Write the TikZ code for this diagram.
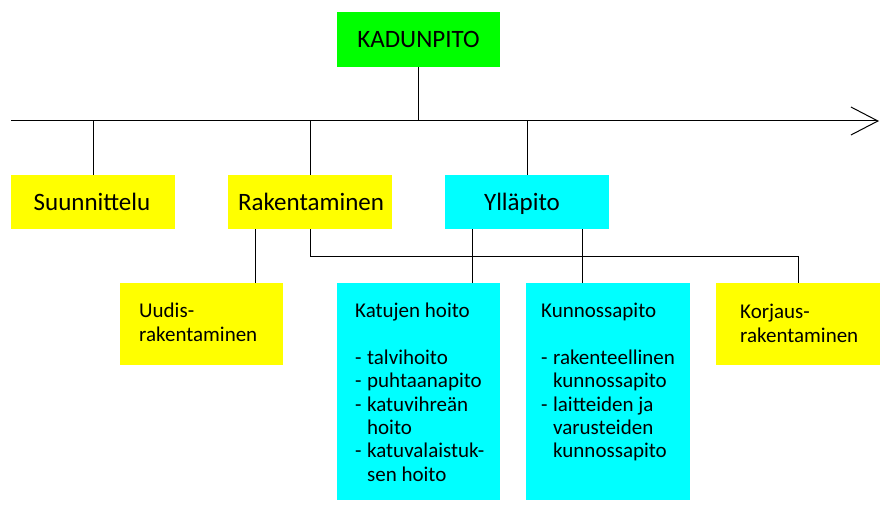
\documentclass[tikz,border=0pt]{standalone}
\usepackage{fontspec}
\setmainfont{Carlito}
\usetikzlibrary{arrows.meta}
\definecolor{boxyellow}{HTML}{FFFF00}
\definecolor{boxcyan}{HTML}{00FFFF}
\definecolor{boxgreen}{HTML}{00FF00}
\newcommand{\bigtxt}{\fontsize{25bp}{30bp}\selectfont}
\newcommand{\smalltxt}{\fontsize{21bp}{23.3bp}\selectfont}
\begin{document}
\begin{tikzpicture}[x=1bp,y=-1bp,
  box/.style={rectangle, draw=none, inner sep=0pt},
  ybox/.style={box, fill=boxyellow},
  cbox/.style={box, fill=boxcyan},
  gbox/.style={box, fill=boxgreen},
  bigtext/.style={inner sep=0pt, anchor=base, font=\bigtxt},
  smalltext/.style={inner sep=0pt, anchor=base west, font=\smalltxt},
  conn/.style={draw=black, line width=1bp},
]
\useasboundingbox (0,0) rectangle (894,514);
% boxes
\node[gbox, minimum width=163bp, minimum height=55bp] (kad) at (418.5,39.5) {};
\node[ybox, minimum width=164bp, minimum height=54bp] (suun) at (93,202) {};
\node[ybox, minimum width=164bp, minimum height=54bp] (rak) at (310,202) {};
\node[cbox, minimum width=164bp, minimum height=54bp] (yll) at (527,202) {};
\node[ybox, minimum width=163bp, minimum height=82bp] (uud) at (201.5,324) {};
\node[cbox, minimum width=163bp, minimum height=217bp] (kat) at (418.5,391.5) {};
\node[cbox, minimum width=164bp, minimum height=217bp] (kun) at (608,391.5) {};
\node[ybox, minimum width=164bp, minimum height=82bp] (kor) at (798,324) {};
% texts
\node[bigtext] (kadt) at (418.5,48) {KADUNPITO};
\node[bigtext] (suunt) at (92,211) {Suunnittelu};
\node[bigtext] (rakt) at (311,211) {Rakentaminen};
\node[bigtext] (yllt) at (522,211) {Ylläpito};
\node[smalltext] (uudt) at (139,318) {\begin{tabular}[t]{@{}l@{}}Uudis-\\rakentaminen\end{tabular}};
\node[smalltext] (kort) at (740,319) {\begin{tabular}[t]{@{}l@{}}Korjaus-\\rakentaminen\end{tabular}};
\node[smalltext] (katt) at (355,318) {\begin{tabular}[t]{@{}l@{\hspace{5.5bp}}l@{}}
\multicolumn{2}{@{}l@{}}{Katujen hoito}\\
 & \\
- & talvihoito\\
- & puhtaanapito\\
- & katuvihreän\\
 & hoito\\
- & katuvalaistuk-\\
 & sen hoito
\end{tabular}};
\node[smalltext] (kunt) at (541,318) {\begin{tabular}[t]{@{}l@{\hspace{5.5bp}}l@{}}
\multicolumn{2}{@{}l@{}}{Kunnossapito}\\
 & \\
- & rakenteellinen\\
 & kunnossapito\\
- & laitteiden ja\\
 & varusteiden\\
 & kunnossapito
\end{tabular}};
% connectors
\coordinate (ls) at (11,121);
\coordinate (le) at (879,121);
\coordinate (xu) at (255,0);
\coordinate (xk) at (472,0);
\coordinate (xn) at (582,0);
\draw[conn, -{Straight Barb[length=27bp,width=28bp,line width=1bp]}] (ls) -- (le);
\draw[conn] (kad.south) -- (kad.south |- ls);
\draw[conn] (suun.north |- ls) -- (suun.north);
\draw[conn] (rak.north |- ls) -- (rak.north);
\draw[conn] (yll.north |- ls) -- (yll.north);
\draw[conn] (rak.south -| xu) -- (uud.north -| xu);
\draw[conn] (rak.south) -- ++(0,27) -| (kor.north);
\draw[conn] (yll.south -| xk) -- (kat.north -| xk);
\draw[conn] (yll.south -| xn) -- (kun.north -| xn);
\end{tikzpicture}
\end{document}
